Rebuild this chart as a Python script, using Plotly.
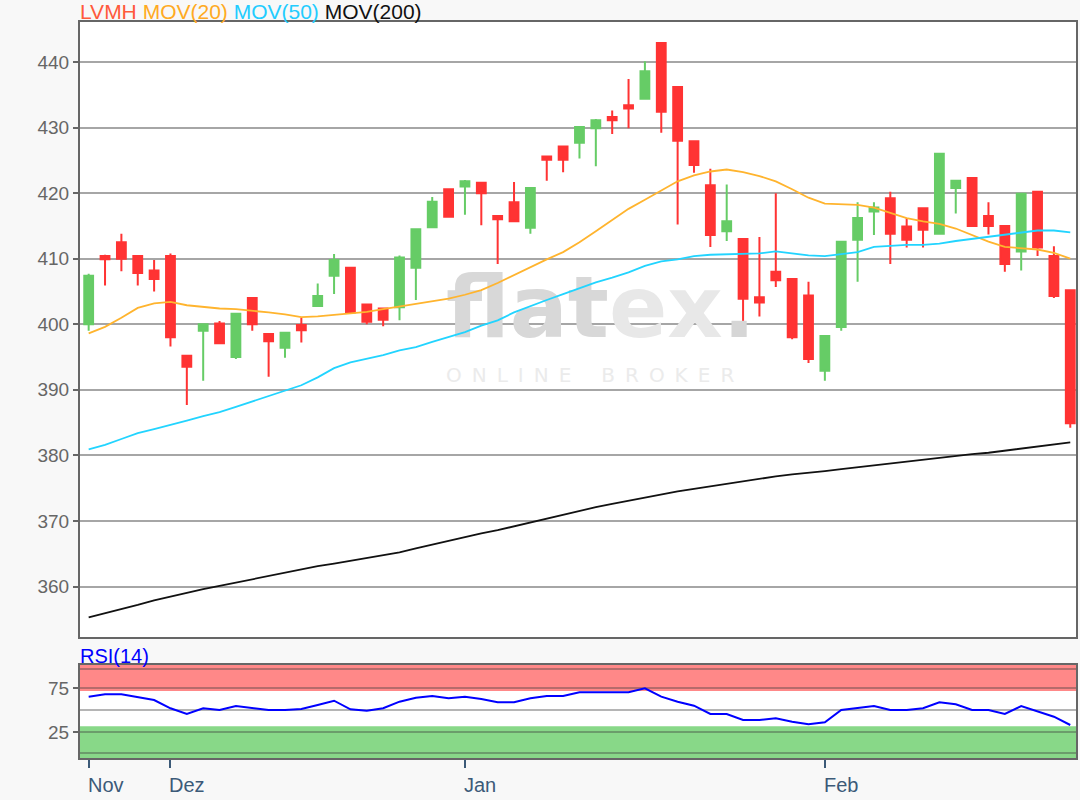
import plotly.graph_objects as go

# ---------------- data ----------------
month_labels = ["Nov", "Dez", "Jan", "Feb"]
month_tick_idx = [0, 5, 23, 45]

open_ = [400.0, 410.4, 412.5, 410.4, 408.2, 410.4, 395.2, 399.0, 400.1, 395.0,
         404.0, 398.5, 396.4, 399.9, 402.8, 407.4, 408.6, 403.0, 402.4, 402.6,
         408.6, 414.8, 420.6, 421.0, 421.6, 416.5, 418.6, 414.7, 425.6, 427.1,
         427.7, 429.9, 431.6, 433.4, 434.4, 442.9, 436.2, 427.9, 421.2, 414.2,
         413.0, 404.1, 408.0, 406.9, 404.4, 392.9, 399.6, 412.9, 417.2, 419.2,
         414.9, 417.7, 413.8, 420.8, 422.3, 416.5, 415.0, 411.1, 420.2, 410.4,
         405.2]
high = [407.7, 410.6, 413.8, 410.5, 409.8, 410.8, 395.3, 400.1, 400.5, 401.7,
        404.1, 398.6, 398.8, 401.0, 406.2, 410.7, 408.7, 403.1, 402.5, 410.5,
        414.6, 419.4, 420.7, 422.0, 421.7, 416.6, 421.7, 420.9, 425.7, 427.2,
        430.2, 431.3, 432.6, 437.4, 440.1, 443.0, 436.3, 428.0, 423.7, 421.3,
        413.1, 413.3, 420.0, 407.0, 406.5, 398.3, 412.7, 418.6, 418.6, 420.2,
        416.2, 417.8, 426.0, 422.0, 422.4, 418.6, 415.1, 420.0, 420.3, 411.9,
        405.3]
low = [399.0, 405.9, 408.1, 405.9, 405.0, 396.6, 387.7, 391.4, 397.0, 394.7,
       399.0, 392.0, 394.9, 397.2, 402.7, 404.6, 401.7, 400.0, 399.7, 400.6,
       403.7, 414.7, 416.3, 416.7, 415.1, 409.2, 415.6, 413.8, 421.9, 423.2,
       425.3, 424.1, 429.0, 429.9, 434.3, 429.2, 415.2, 423.1, 411.8, 412.7,
       399.0, 401.2, 405.7, 397.7, 394.1, 391.4, 399.0, 406.5, 413.6, 409.2,
       411.7, 411.7, 413.7, 416.9, 415.0, 413.7, 408.0, 408.2, 410.4, 404.0,
       384.2]
close = [407.4, 409.9, 410.0, 407.8, 406.9, 398.0, 393.5, 400.0, 397.1, 401.6,
         400.0, 397.4, 398.7, 399.1, 404.3, 409.8, 401.8, 400.4, 400.7, 410.2,
         414.5, 418.7, 416.4, 421.8, 420.0, 416.0, 415.7, 420.8, 425.1, 425.1,
         430.1, 431.1, 431.1, 432.9, 438.6, 432.4, 428.0, 424.3, 413.6, 415.7,
         403.9, 403.3, 406.7, 398.0, 394.7, 398.2, 412.6, 416.2, 417.8, 413.8,
         412.9, 414.4, 426.0, 421.9, 415.0, 415.0, 409.2, 419.9, 411.7, 404.3,
         384.9]

mov20 = [398.6, 399.6, 401.0, 402.5, 403.2, 403.4, 402.9, 402.6, 402.4, 402.3,
         402.1, 401.8, 401.5, 401.1, 401.2, 401.4, 401.6, 401.9, 402.3, 402.7,
         403.0, 403.4, 403.9, 404.5, 405.2, 406.3, 407.5, 408.8, 409.9, 411.0,
         412.5, 414.2, 415.9, 417.6, 419.0, 420.4, 421.8, 422.7, 423.3, 423.6,
         423.2, 422.6, 421.8, 420.6, 419.3, 418.4, 418.3, 418.2, 417.8, 417.0,
         416.2, 415.7, 415.3, 414.6, 413.6, 412.6, 411.8, 411.6, 411.4, 410.9,
         410.0]
mov50 = [380.9, 381.6, 382.5, 383.4, 384.0, 384.6, 385.3, 386.0, 386.6, 387.4,
         388.2, 389.0, 389.8, 390.7, 391.9, 393.3, 394.2, 394.7, 395.3, 396.0,
         396.5, 397.3, 398.0, 398.8, 399.8, 400.6, 401.8, 402.8, 403.7, 404.6,
         405.5, 406.4, 407.1, 407.9, 408.9, 409.6, 409.9, 410.4, 410.6, 410.7,
         410.8, 410.8, 411.1, 410.8, 410.5, 410.4, 410.7, 411.0, 411.8, 412.0,
         412.1, 412.1, 412.3, 412.7, 413.0, 413.4, 413.7, 414.0, 414.3, 414.3,
         414.0]
mov200 = [355.3, 355.9, 356.6, 357.2, 357.9, 358.5, 359.0, 359.6, 360.1, 360.6,
          361.2, 361.7, 362.2, 362.6, 363.1, 363.5, 363.9, 364.4, 364.8, 365.2,
          365.8, 366.4, 367.0, 367.6, 368.1, 368.6, 369.2, 369.7, 370.3, 370.9,
          371.5, 372.1, 372.6, 373.1, 373.6, 374.0, 374.5, 374.9, 375.3, 375.7,
          376.1, 376.5, 376.8, 377.1, 377.3, 377.6, 377.9, 378.2, 378.5, 378.8,
          379.1, 379.3, 379.6, 379.9, 380.2, 380.4, 380.7, 381.0, 381.4, 381.7,
          382.0]
rsi = [65.5, 68.2, 68.2, 64.8, 61.7, 52.3, 45.8, 52.3, 50.3, 54.9,
       52.3, 50.3, 50.3, 51.5, 56.0, 60.9, 51.1, 49.5, 52.3, 59.8,
       64.3, 66.2, 63.6, 65.5, 62.8, 59.1, 59.1, 63.6, 66.2, 66.2,
       70.5, 70.5, 70.5, 70.5, 75.0, 65.5, 59.8, 55.2, 45.8, 45.8,
       39.0, 39.0, 40.9, 37.0, 34.1, 36.4, 50.3, 52.3, 54.9, 50.3,
       50.3, 52.3, 59.1, 56.8, 50.3, 50.3, 45.8, 54.9, 48.4, 42.7,
       33.3]

price_ticks = [360, 370, 380, 390, 400, 410, 420, 430, 440]
rsi_ticks = [25, 75]
rsi_lines = [1, 50, 97]
rsi_bands = [(72, 110, "#ff8888"), (-10, 32, "#88d888")]

x = list(range(len(close)))

# ---------------- styling ----------------
GREEN = "#66cc66"
RED = "#ff3333"
AXIS = "#666666"
FONT = "Liberation Sans"

fig = go.Figure()

# watermark (drawn first so it sits beneath the data)
fig.add_trace(go.Scatter(
    x=[31.3], y=[401.3], mode="text",
    text=["<span style='color:#d8d8d8'>flat</span><span style='color:#e8e8e8'>ex</span><span style='color:#d6d6d6'>.</span>"],
    textposition="middle center",
    textfont=dict(family="DejaVu Sans", size=86, weight="bold"),
    hoverinfo="skip", showlegend=False, xaxis="x", yaxis="y"))
fig.add_trace(go.Scatter(
    x=[30.65], y=[391.9], mode="text",
    text=["O\u2002N\u2002L\u2002I\u2002N\u2002E\u2002\u2002\u2002B\u2002R\u2002O\u2002K\u2002E\u2002R"],
    textposition="middle center",
    textfont=dict(family="DejaVu Sans", size=20, color="#ebebeb"),
    hoverinfo="skip", showlegend=False, xaxis="x", yaxis="y"))

fig.add_trace(go.Candlestick(
    x=x, open=open_, high=high, low=low, close=close,
    increasing=dict(line=dict(color=GREEN, width=2), fillcolor=GREEN),
    decreasing=dict(line=dict(color=RED, width=2), fillcolor=RED),
    whiskerwidth=0, showlegend=False, xaxis="x", yaxis="y", name="LVMH"))

fig.add_trace(go.Scatter(x=x, y=mov20, mode="lines",
                         line=dict(color="#ffb42e", width=1.8),
                         showlegend=False, xaxis="x", yaxis="y", name="MOV(20)"))
fig.add_trace(go.Scatter(x=x, y=mov50, mode="lines",
                         line=dict(color="#22d4ff", width=1.8),
                         showlegend=False, xaxis="x", yaxis="y", name="MOV(50)"))
fig.add_trace(go.Scatter(x=x, y=mov200, mode="lines",
                         line=dict(color="#111111", width=1.8),
                         showlegend=False, xaxis="x", yaxis="y", name="MOV(200)"))

fig.add_trace(go.Scatter(x=x, y=rsi, mode="lines",
                         line=dict(color="#0000ff", width=2),
                         showlegend=False, xaxis="x2", yaxis="y2", name="RSI(14)"))

xr = [-0.53, 60.35]
main_dom = [0.1644, 1.0]
rsi_dom = [0.0, 0.1264]

shapes = [dict(type="rect", xref="x2", yref="y2", x0=xr[0], x1=xr[1], y0=b0, y1=b1,
               fillcolor=c, line_width=0, layer="below") for b0, b1, c in rsi_bands]

annotations = [
    dict(xref="paper", yref="paper", x=0, y=1, xanchor="left", yanchor="bottom",
         yshift=-3, xshift=-2, showarrow=False,
         text=("<span style='color:#ff5a3c'>LVMH</span> "
               "<span style='color:#ffaa22'>MOV(20)</span> "
               "<span style='color:#22ccff'>MOV(50)</span> "
               "<span style='color:#111111'>MOV(200)</span>"),
         font=dict(family=FONT, size=21)),
    dict(xref="paper", yref="paper", x=0, y=rsi_dom[1], xanchor="left", yanchor="bottom",
         yshift=-4, xshift=-2, showarrow=False, text="RSI(14)",
         font=dict(family=FONT, size=20, color="#0000ff")),
]
for idx, lab in zip(month_tick_idx, month_labels):
    annotations.append(dict(xref="x2", yref="paper", x=idx, y=-0.019,
                            xanchor="left", yanchor="top", xshift=-3,
                            showarrow=False, text=lab,
                            font=dict(family=FONT, size=20, color="#3c5a78")))

fig.update_layout(
    width=1080, height=800,
    margin=dict(l=80, r=2, t=22, b=42),
    paper_bgcolor="#f8f8f8", plot_bgcolor="#ffffff",
    boxgap=0.23,
    showlegend=False,
    shapes=shapes, annotations=annotations,
    xaxis=dict(domain=[0, 1], anchor="y", range=xr, showgrid=False, zeroline=False,
               showticklabels=False, ticks="", showline=True, mirror=True,
               linecolor=AXIS, linewidth=2, rangeslider=dict(visible=False)),
    yaxis=dict(domain=main_dom, anchor="x", range=[352.3, 446.1],
               tickvals=price_ticks, ticks="outside", ticklen=5, tickcolor=AXIS,
               tickwidth=1.5, showgrid=True, gridcolor="#a6a6a6", gridwidth=2,
               zeroline=False, showline=True, mirror=True, linecolor=AXIS, linewidth=2,
               tickfont=dict(family=FONT, size=19, color="#666666")),
    xaxis2=dict(domain=[0, 1], anchor="y2", range=xr, matches="x", showgrid=False,
                zeroline=False, tickvals=month_tick_idx, showticklabels=False,
                ticks="outside", ticklen=8, tickcolor="#3c5a78", tickwidth=1.5,
                showline=True, mirror=True, linecolor=AXIS, linewidth=2,
                rangeslider=dict(visible=False)),
    yaxis2=dict(domain=rsi_dom, anchor="x2", range=[-4.2, 101.5],
                tickvals=rsi_ticks, ticks="outside", ticklen=5, tickcolor=AXIS,
                tickwidth=1.5, showgrid=True, gridcolor="rgba(60,60,60,0.38)",
                gridwidth=2, zeroline=False, showline=True,
                mirror=True, linecolor=AXIS, linewidth=2,
                minor=dict(tickvals=rsi_lines, ticks="", showgrid=True,
                           gridcolor="rgba(60,60,60,0.38)", gridwidth=2),
                tickfont=dict(family=FONT, size=19, color="#666666")),
)

fig.write_html("out.html", config={"displayModeBar": False},
               post_script="document.body.style.margin='0px';")
